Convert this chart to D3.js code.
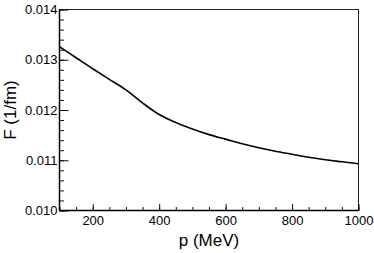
<!DOCTYPE html>
<html><head><meta charset="utf-8">
<script src="https://cdn.jsdelivr.net/npm/d3@7"></script>
<style>body{margin:0;background:#fff;}svg{display:block;}text{font-family:"Liberation Sans",Arial,sans-serif;fill:#000;}</style>
</head><body>
<svg id="c" width="374" height="253"></svg>
<script>
const momentum = [100,150,200,250,300,350,400,450,500,550,600,650,700,750,800,850,900,950,1000];
const formFactor = [0.01326,0.01304,0.01282,0.01261,0.01240,0.01214,0.01191,0.01175,0.01162,0.01151,0.01142,0.01133,0.01125,0.01118,0.01112,0.01106,0.01101,0.01097,0.01093];
const xTicks = [200,400,600,800,1000];
const yTicks = [0.010,0.011,0.012,0.013,0.014];
const xLabel = "p (MeV)";
const yLabel = "F (1/fm)";

const L=59.5, R=358.5, T=9.5, B=210.5;
const svg = d3.select("#c");
const x = d3.scaleLinear().domain([100,1000]).range([L,R]);
const y = d3.scaleLinear().domain([0.010,0.014]).range([B,T]);

// frame
svg.append("rect").attr("x",L).attr("y",T).attr("width",R-L).attr("height",B-T)
  .attr("fill","none").attr("stroke","#222").attr("stroke-width",1);

// x axis (ticks inside)
const xMinor = d3.range(100,1001,50);
const gx = svg.append("g").attr("transform",`translate(0,${B})`);
gx.call(d3.axisBottom(x).tickValues(xMinor).tickSize(-3.5).tickFormat(""))
  .call(g=>g.select(".domain").remove());
gx.append("g").call(d3.axisBottom(x).tickValues(xTicks).tickSize(-6.5).tickPadding(12).tickFormat(d3.format("d")))
  .call(g=>g.select(".domain").remove())
  .call(g=>g.selectAll("text").attr("font-size",13).attr("dy","0.2em"));
gx.selectAll("line").attr("stroke","#111");

// y axis (ticks inside)
const yMinor = d3.range(0,21).map(i=>0.010+i*0.0002);
const gy = svg.append("g").attr("transform",`translate(${L},0)`);
gy.call(d3.axisLeft(y).tickValues(yMinor).tickSize(-4.5).tickFormat(""))
  .call(g=>g.select(".domain").remove());
gy.append("g").call(d3.axisLeft(y).tickValues(yTicks).tickSize(-9).tickPadding(3).tickFormat(d3.format(".3f")))
  .call(g=>g.select(".domain").remove())
  .call(g=>g.selectAll("text").attr("font-size",13).attr("x",-2));
gy.selectAll("line").attr("stroke","#111");

// axis lines (thicker)
svg.append("line").attr("x1",L).attr("x2",L).attr("y1",T).attr("y2",B).attr("stroke","#000").attr("stroke-width",1.5);
svg.append("line").attr("x1",L).attr("x2",R).attr("y1",B).attr("y2",B).attr("stroke","#000").attr("stroke-width",1.5);

// curve
const line = d3.line().x((d,i)=>x(momentum[i])).y(d=>y(d)).curve(d3.curveMonotoneX);
svg.append("path").datum(formFactor).attr("d",line).attr("fill","none")
  .attr("stroke","#000").attr("stroke-width",1.6);

// labels
svg.append("text").attr("x",(L+R)/2).attr("y",246).attr("text-anchor","middle")
  .attr("font-size",17).text(xLabel);
svg.append("text").attr("transform",`translate(16,${(T+B)/2}) rotate(-90)`).attr("text-anchor","middle")
  .attr("font-size",17).text(yLabel);
</script>
</body></html>
